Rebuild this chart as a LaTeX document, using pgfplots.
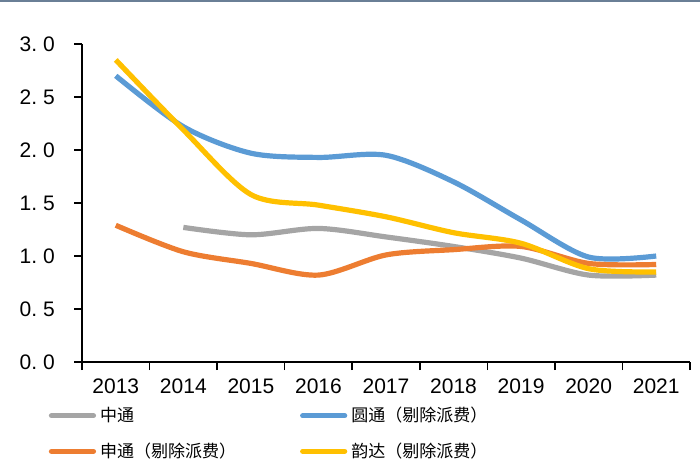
\documentclass[border=0pt]{standalone}
\usepackage{fontspec}
\setmainfont{Liberation Sans}
\newfontfamily\cjk{Noto Sans CJK SC}
\usepackage{pgfplots}
\pgfplotsset{compat=1.18}
\definecolor{cgrey}{HTML}{A5A5A5}
\definecolor{cblue}{HTML}{5B9BD5}
\definecolor{corange}{HTML}{ED7D31}
\definecolor{cyellow}{HTML}{FFC000}
\definecolor{ctop}{HTML}{6A7F96}
\begin{document}
\begin{tikzpicture}
\path[use as bounding box] (0pt,0pt) rectangle (350pt,236pt);
\fill[ctop] (0pt,235.2pt) rectangle (350pt,236pt);
\begin{axis}[
  at={(41pt,55pt)}, anchor=south west,
  scale only axis, width=304pt, height=159pt,
  xmin=-0.5, xmax=8.5, ymin=0, ymax=3,
  axis lines=left, axis line style={black, line width=0.8pt, -},
  xtick={0,...,8},
  xticklabels={2013,2014,2015,2016,2017,2018,2019,2020,2021},
  minor xtick={-0.5,0.5,...,8.5},
  ytick={0,0.5,...,3},
  yticklabels={0.\hspace{3pt}0,0.\hspace{3pt}5,1.\hspace{3pt}0,1.\hspace{3pt}5,2.\hspace{3pt}0,2.\hspace{3pt}5,3.\hspace{3pt}0},
  tick align=outside,
  x tick style={draw=none},
  minor x tick style={draw=black, line width=0.8pt},
  minor tick length=4pt,
  y tick style={black, line width=0.8pt},
  major tick length=4pt,
  tick label style={font=\fontsize{10.5}{12}\selectfont},
  /pgf/number format/assume math mode=true,
  xticklabel style={yshift=-1pt},
  yticklabel style={xshift=-6pt},
  legend columns=2,
  legend cell align=left,
  legend style={at={(axis description cs:-0.065,-0.115)}, anchor=north west, draw=none, fill=none,
    font=\cjk\fontsize{8.5}{10}\selectfont,
    /tikz/every even column/.append style={column sep=30pt},
    row sep=5pt},
  legend image code/.code={\draw[#1, line cap=round] (0pt,0pt) -- (21pt,0pt);},
  every axis plot/.append style={line width=2.6pt, smooth, tension=0.5},
]
\addplot[cgrey] coordinates {(1,1.27) (2,1.20) (3,1.26) (4,1.18) (5,1.09) (6,0.98) (7,0.82) (8,0.82)};
\addlegendentry{中通}
\addplot[cblue] coordinates {(0,2.70) (1,2.22) (2,1.97) (3,1.93) (4,1.95) (5,1.70) (6,1.34) (7,0.99) (8,1.00)};
\addlegendentry{圆通（剔除派费）}
\addplot[corange] coordinates {(0,1.29) (1,1.04) (2,0.93) (3,0.82) (4,1.01) (5,1.06) (6,1.09) (7,0.93) (8,0.92)};
\addlegendentry{申通（剔除派费）}
\addplot[cyellow] coordinates {(0,2.85) (1,2.19) (2,1.58) (3,1.48) (4,1.37) (5,1.22) (6,1.12) (7,0.88) (8,0.85)};
\addlegendentry{韵达（剔除派费）}
\end{axis}
\end{tikzpicture}
\end{document}
